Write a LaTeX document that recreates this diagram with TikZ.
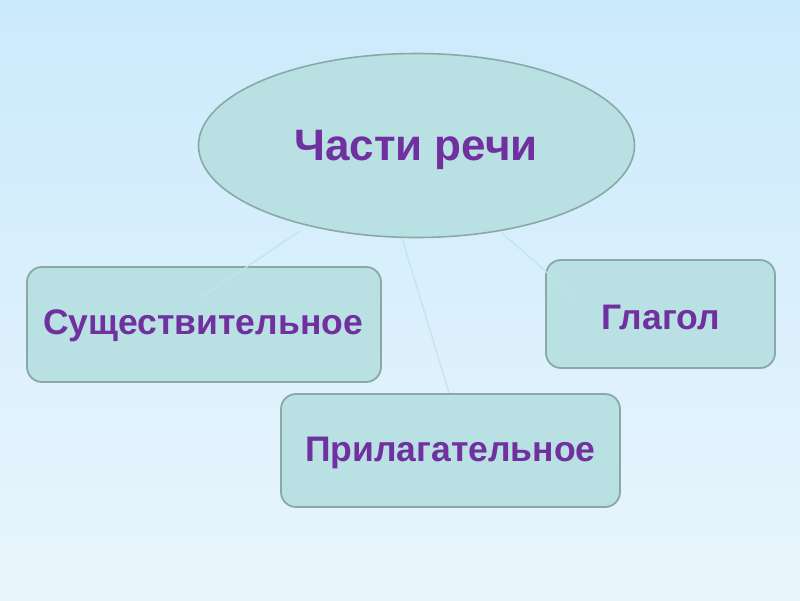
\documentclass[tikz,border=0pt]{standalone}
\usepackage{fontspec}
\setmainfont{Liberation Sans}
\usetikzlibrary{shapes.geometric}
\definecolor{bgtop}{HTML}{CBEAFC}
\definecolor{bgbot}{HTML}{E9F5FC}
\definecolor{boxfill}{HTML}{B9E0E2}
\definecolor{boxline}{HTML}{8BA8A6}
\definecolor{txt}{HTML}{7030A0}
\definecolor{conn}{HTML}{C4E4EA}
\tikzset{
  topic/.style={ellipse, draw=boxline, line width=1.6pt, fill=boxfill, minimum width=436pt, minimum height=184pt, inner sep=0pt},
  leaf/.style={rectangle, rounded corners=15pt, draw=boxline, line width=1.8pt, fill=boxfill, inner sep=0pt},
  lbl/.style={text=txt, font=\bfseries},
  conline/.style={draw=conn, line width=1.2pt}
}
\begin{document}
\begin{tikzpicture}[x=1pt,y=-1pt]
\shade[top color=bgtop, bottom color=bgbot] (0,0) rectangle (800,600);
\useasboundingbox (0,0) rectangle (800,600);
\coordinate (c1a) at (300,231);
\coordinate (c1b) at (199,299);
\coordinate (c2a) at (402,238);
\coordinate (c2b) at (449,393);
\coordinate (c3a) at (502,233);
\coordinate (c3b) at (576,298);
\node[topic] (top) at (416.5,145.5) {};
\node[leaf, minimum width=354pt, minimum height=115pt] (noun) at (204,324.5) {};
\node[leaf, minimum width=339pt, minimum height=113pt] (adj) at (450.5,450.5) {};
\node[leaf, minimum width=229pt, minimum height=108pt] (verb) at (660.5,314) {};
\draw[conline] (c1a) -- (c1b);
\draw[conline] (c2a) -- (c2b);
\draw[conline] (c3a) -- (c3b);
\node[lbl, font=\bfseries\fontsize{44}{50}\selectfont] (ttop) at (416,150) {Части речи};
\node[lbl, font=\bfseries\fontsize{35.5}{42}\selectfont] (tnoun) at (203,326) {Существительное};
\node[lbl, font=\bfseries\fontsize{35.5}{42}\selectfont] (tadj) at (450.5,453) {Прилагательное};
\node[lbl, font=\bfseries\fontsize{35.5}{42}\selectfont] (tverb) at (660.5,317) {Глагол};
\end{tikzpicture}
\end{document}
